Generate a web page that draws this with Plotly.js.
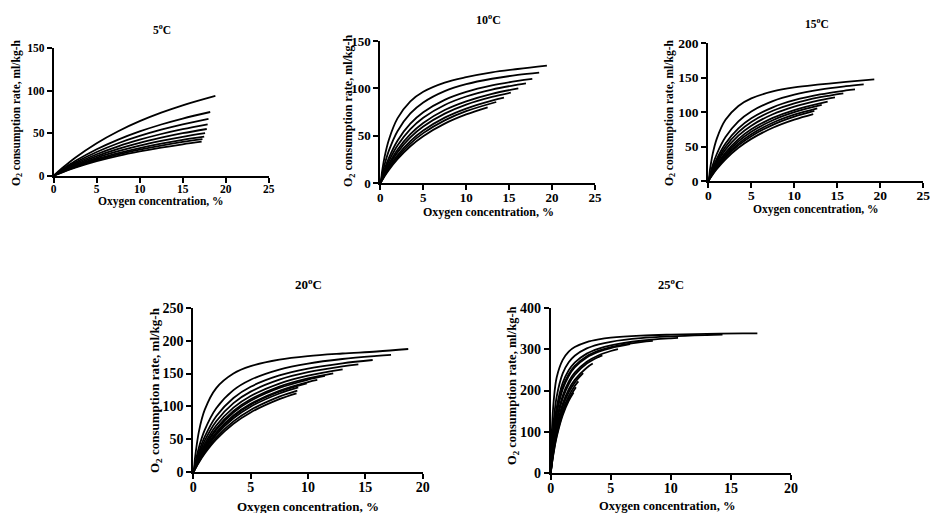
<!DOCTYPE html>
<html>
<head>
<meta charset="utf-8">
<script src="https://cdn.plot.ly/plotly-3.0.1.min.js"></script>
<style>html,body{margin:0;padding:0;background:#fff;}#chart{width:930px;height:513px;}</style>
</head>
<body>
<div id="chart"></div>
<script>
// ---- Data ----
const panelTitles = ["5<sup>o</sup>C", "10<sup>o</sup>C", "15<sup>o</sup>C", "20<sup>o</sup>C", "25<sup>o</sup>C"];
const xTitle = "Oxygen concentration, %";
const yTitle = "O<sub>2</sub> consumption rate, ml/kg-h";

// 5 °C
const p1_o2 = [
  [0,1,2.5,5,7.5,10,12.5,15,18.8],
  [0,1,2.5,5,7.5,10,12.5,15,18.2],
  [0,1,2.5,5,7.5,10,12.5,15,18.0],
  [0,1,2.5,5,7.5,10,12.5,15,17.9],
  [0,1,2.5,5,7.5,10,12.5,15,17.8],
  [0,1,2.5,5,7.5,10,12.5,15,17.6],
  [0,1,2.5,5,7.5,10,12.5,15,17.5],
  [0,1,2.5,5,7.5,10,12.5,15,17.3],
  [0,1,2.5,5,7.5,10,12.5,15,17.2]
];
const p1_rate = [
  [0,9.0,21.2,38.3,52.4,64.2,74.2,82.9,94],
  [0,7.3,17.2,31.1,42.5,52.1,60.3,67.3,75],
  [0,6.6,15.4,27.9,38.2,46.8,54.2,60.5,67],
  [0,6.0,14.0,25.3,34.6,42.4,49.1,54.8,60.5],
  [0,5.4,12.8,23.1,31.6,38.7,44.7,50.0,55],
  [0,5.0,11.7,21.1,28.8,35.4,40.9,45.7,50],
  [0,4.6,10.8,19.5,26.6,32.6,37.8,42.2,46],
  [0,4.3,10.1,18.3,25.1,30.7,35.5,39.7,43],
  [0,4.0,9.4,17.1,23.4,28.6,33.1,37.0,40]
];

// 10 °C
const p2_o2 = [
  [0,0.5,1,2,3.5,5,7.5,10,13,16,19.4],
  [0,0.5,1,2,3.5,5,7.5,10,13,16,18.5],
  [0,0.5,1,2,3.5,5,7.5,10,13,16,17.7],
  [0,0.5,1,2,3.5,5,7.5,10,13,16,16.96],
  [0,0.5,1,2,3.5,5,7.5,10,13,16.07],
  [0,0.5,1,2,3.5,5,7.5,10,13,15.2],
  [0,0.5,1,2,3.5,5,7.5,10,13,14.4],
  [0,0.5,1,2,3.5,5,7.5,10,13.5],
  [0,0.5,1,2,3.5,5,7.5,10,12.5]
];
const p2_rate = [
  [0,27.8,46.0,68.4,86.4,96.5,106.2,111.9,117,120.5,124],
  [0,19.7,34.4,54.9,73.6,85.2,97.2,104.5,110.2,114.2,116.6],
  [0,14.9,26.9,44.9,62.8,74.8,87.9,96.3,103.1,107.9,110],
  [0,12.8,23.4,39.9,57.2,69.2,82.6,91.5,98.8,104.0,105.4],
  [0,11.0,20.4,35.4,51.8,63.6,77.2,86.4,94.3,100],
  [0,9.9,18.5,32.6,48.3,59.8,73.4,82.9,91.0,95.5],
  [0,8.8,16.6,29.5,44.4,55.6,69.2,78.8,87.1,90.2],
  [0,8.2,15.4,27.6,41.9,52.9,66.3,76.0,85.7],
  [0,7.4,14.1,25.5,39.1,49.7,62.9,72.6,80.1]
];

// 15 °C
const p3_o2 = [
  [0,0.5,1,2,3.5,5,7.5,10,13,16,19.3],
  [0,0.5,1,2,3.5,5,7.5,10,13,16,18.07],
  [0,0.5,1,2,3.5,5,7.5,10,13,16,17.06],
  [0,0.5,1,2,3.5,5,7.5,10,13,15.7],
  [0,0.5,1,2,3.5,5,7.5,10,13,14.73],
  [0,0.5,1,2,3.5,5,7.5,10,13.88],
  [0,0.5,1,2,3.5,5,7.5,10,13.19],
  [0,0.5,1,2,3.5,5,7.5,10,12.67],
  [0,0.5,1,2,3.5,5,7.5,10,12.33],
  [0,0.5,1,2,3.5,5,7.5,10,12.2]
];
const p3_rate = [
  [0,38.6,61.9,88.8,109.0,120.0,130.1,135.9,140.2,144,147.7],
  [0,22.5,39.6,63.8,86.6,101.0,116.0,125.3,132.7,137.7,140.4],
  [0,18.1,32.5,54.4,76.3,91.0,107.0,117.3,125.7,131.5,133.2],
  [0,16.1,29.3,49.8,71.0,85.7,102.0,112.8,121.7,127.4],
  [0,14.3,26.4,45.5,65.9,80.4,97.0,108.1,117.5,121.6],
  [0,12.7,23.6,41.3,60.8,75.0,91.7,103.1,115.2],
  [0,11.8,21.9,38.7,57.6,71.6,88.3,99.9,110.4],
  [0,10.8,20.3,36.1,54.3,68.0,84.6,96.3,105.6],
  [0,10.1,19.0,34.1,51.7,65.1,81.6,93.4,101.7],
  [0,9.2,17.4,31.5,48.2,61.2,77.4,89.2,97.3]
];

// 20 °C
const p4_o2 = [
  [0,0.5,1,2,3.5,5,7.5,10,13,16,18.74],
  [0,0.5,1,2,3.5,5,7.5,10,13,16,17.24],
  [0,0.5,1,2,3.5,5,7.5,10,13,15.64],
  [0,0.5,1,2,3.5,5,7.5,10,13,14.39],
  [0,0.5,1,2,3.5,5,7.5,10,13.02],
  [0,0.5,1,2,3.5,5,7.5,10,12.2],
  [0,0.5,1,2,3.5,5,7.5,10,11.48],
  [0,0.5,1,2,3.5,5,7.5,10,10.81],
  [0,0.5,1,2,3.5,5,7.5,9.89],
  [0,0.5,1,2,3.5,5,7.5,9.15],
  [0,0.5,1,2,3.5,5,7.5,9.07],
  [0,0.5,1,2,3.5,5,7.5,9.0]
];
const p4_rate = [
  [0,62.9,95.1,127.9,150,161.2,171.1,176.5,180.4,183.5,187.3],
  [0,38.3,64.3,97.3,124.8,140.6,156.1,165.2,172.1,176.7,178.2],
  [0,31.3,54.1,85.1,112.9,129.9,147.1,157.5,165.6,170.6],
  [0,27.3,48.1,77.5,105.1,122.5,140.7,152.0,160.9,164],
  [0,24.2,43.2,71.0,98.2,115.9,134.8,146.7,156.4],
  [0,22.1,39.8,66.4,93.1,110.9,130.2,142.7,150.4],
  [0,21.2,38.4,64.4,90.8,108.6,128.1,140.7,146.3],
  [0,19.6,35.7,60.5,86.3,104.1,123.9,136.9,140.2],
  [0,19.1,34.8,59.3,85.0,102.7,122.5,135.2],
  [0,18.1,33.2,56.9,82.1,99.7,119.7,129.1],
  [0,16.5,30.5,52.9,77.3,94.7,114.9,124],
  [0,15.4,28.6,50,73.7,90.9,111.1,120]
];

// 25 °C
const p5_o2 = [
  [0,0.1,0.25,0.5,1,1.5,2,3,4,5,7.5,10,13,16,17.2],
  [0,0.1,0.25,0.5,1,1.5,2,3,4,5,7.5,10,13,14.3],
  [0,0.1,0.25,0.5,1,1.5,2,3,4,5,7.5,10,10.6],
  [0,0.1,0.25,0.5,1,1.5,2,3,4,5,7.5,8.5],
  [0,0.1,0.25,0.5,1,1.5,2,3,4,5,6.6],
  [0,0.1,0.25,0.5,1,1.5,2,3,4,5,5.6],
  [0,0.1,0.25,0.5,1,1.5,2,3,4,4.3],
  [0,0.1,0.25,0.5,1,1.5,2,3,3.5],
  [0,0.1,0.25,0.5,1,1.5,2,2.7],
  [0,0.1,0.25,0.5,1,1.5,2,2.3],
  [0,0.1,0.25,0.5,1,1.5,2.1],
  [0,0.1,0.25,0.5,1,1.5,1.9]
];
const p5_rate = [
  [0,105,175,232,274,294,305,317,323.5,327.5,332.5,335,336.8,337.8,338],
  [0,65.1,126.8,185.5,241.3,268.1,284,301.7,311.5,317.7,326.3,330.8,334.0,335],
  [0,50.7,103.9,159.7,218.4,248.8,267.4,289.1,301.3,309.1,320.2,326.1,327],
  [0,45.4,94.8,148.7,207.8,239.6,259.4,282.8,296.1,304.8,317.1,320],
  [0,43.1,90.8,143.8,202.9,235.2,255.6,279.7,293.6,302.6,312],
  [0,36.7,79.1,128.7,187.5,221.2,243,269.5,285.1,295.4,300],
  [0,34.3,74.7,122.8,181.1,215.2,237.5,265.0,281.3,285],
  [0,29.8,66,110.8,167.7,202.4,225.7,255.1,265],
  [0,27.6,61.7,104.6,160.5,195.4,219.1,242],
  [0,25.1,56.6,97.2,151.7,186.6,210.8,222],
  [0,23.3,52.8,91.6,144.8,179.5,208],
  [0,22.1,50.4,87.9,140.1,174.7,195]
];

const xRanges = [[0,25],[0,25],[0,25],[0,20],[0,20]];
const yRanges = [[0,150],[0,150],[0,200],[0,250],[0,400]];
const yDticks = [50, 50, 50, 50, 100];

// ---- Layout geometry (pixels) ----
const W = 930, H = 513;
const boxes = [ // [left, right, top, bottom] in px
  [53.7, 268.7, 48.3, 175.7],
  [380.3, 595.0, 41.0, 183.3],
  [708.3, 923.3, 43.3, 181.0],
  [193.3, 422.7, 307.7, 472.3],
  [550.7, 791.0, 307.7, 473.3]
];
const fsz = [11.5, 12, 11.5, 13, 12.5];       // titles
const tsz = [11.5, 13, 13.5, 14, 14];         // tick labels
const titlePos = [[161.7,29.3],[488.3,19.3],[816.7,23.3],[308.3,284],[670.7,284]];
const yTitlePos = [[17,113],[349,111],[670,113],[155,390],[513,386]];
const xTitlePos = [[161,201.5],[488,212],[816,209],[308,506],[667,505.5]];

const FONT = "Liberation Serif";
const sets = [[p1_o2,p1_rate],[p2_o2,p2_rate],[p3_o2,p3_rate],[p4_o2,p4_rate],[p5_o2,p5_rate]];

const traces = [];
const layout = {
  width: W, height: H,
  margin: {l:0, r:0, t:0, b:0},
  paper_bgcolor: "#fff", plot_bgcolor: "#fff",
  showlegend: false,
  font: {family: FONT, color: "#000"},
  annotations: []
};

sets.forEach((s, i) => {
  const n = i + 1;
  const sfx = (n === 1 ? "" : String(n));
  const b = boxes[i];
  s[0].forEach((xs, k) => {
    traces.push({
      type: "scatter", mode: "lines",
      x: xs, y: s[1][k],
      xaxis: "x" + sfx, yaxis: "y" + sfx,
      line: {color: "#000", width: 1.8, shape: "spline", smoothing: 1},
      hoverinfo: "skip"
    });
  });
  const common = {
    showgrid: false, zeroline: false, showline: true, linecolor: "#000", linewidth: 2,
    ticks: "outside", ticklen: 5, tickwidth: 2, tickcolor: "#000",
    tickfont: {family: FONT, size: tsz[i], color: "#000", weight: "bold"},
    ticklabeloverflow: "allow",
    fixedrange: true
  };
  layout["xaxis" + sfx] = Object.assign({}, common, {
    domain: [b[0]/W, b[1]/W], range: xRanges[i], dtick: 5, tick0: 0,
    anchor: "y" + sfx, ticklabelstandoff: -4
  });
  layout["yaxis" + sfx] = Object.assign({}, common, {
    domain: [1 - b[3]/H, 1 - b[2]/H], range: yRanges[i], dtick: yDticks[i], tick0: 0,
    anchor: "x" + sfx
  });
  const f = {family: FONT, size: fsz[i], color: "#000", weight: "bold"};
  layout.annotations.push({
    xref: "paper", yref: "paper", x: titlePos[i][0]/W, y: 1 - titlePos[i][1]/H,
    xanchor: "center", yanchor: "middle", showarrow: false, text: panelTitles[i], font: f
  });
  layout.annotations.push({
    xref: "paper", yref: "paper", x: xTitlePos[i][0]/W, y: 1 - xTitlePos[i][1]/H,
    xanchor: "center", yanchor: "middle", showarrow: false, text: xTitle, font: f
  });
  layout.annotations.push({
    xref: "paper", yref: "paper", x: yTitlePos[i][0]/W, y: 1 - yTitlePos[i][1]/H,
    xanchor: "center", yanchor: "middle", showarrow: false, text: yTitle, textangle: -90, font: f
  });
});

Plotly.newPlot("chart", traces, layout, {displayModeBar: false, staticPlot: true});
</script>
</body>
</html>
